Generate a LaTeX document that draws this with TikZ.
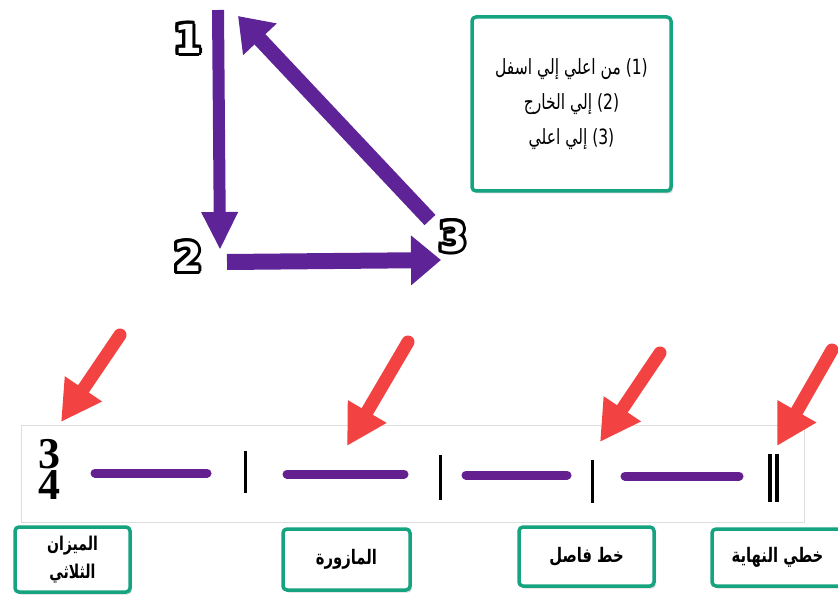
\documentclass[tikz,border=0pt]{standalone}
\usepackage{fontspec}
\usepackage[copies]{contour}
\usetikzlibrary{arrows.meta}
\usetikzlibrary{shadows}
\TeXXeTstate=1
\newfontfamily\arabicfont[Script=Arabic, FakeStretch=0.74]{DejaVu Sans}
\newfontfamily\numfont{DejaVu Sans}
\newfontfamily\metrefont{Liberation Serif}
\definecolor{violetarrow}{RGB}{94,35,150}
\definecolor{notepurple}{RGB}{100,32,142}
\definecolor{boxteal}{RGB}{22,163,128}
\definecolor{pointred}{RGB}{242,66,66}
\definecolor{staffgray}{RGB}{222,222,222}
\contourlength{3pt}

\tikzset{
  labelbox/.style={rectangle, draw=boxteal, line width=3.5pt, rounded corners=4pt, fill=white, align=center, inner sep=2pt,
    drop shadow={shadow xshift=2pt, shadow yshift=-2.5pt, opacity=0.3}, font=\arabicfont\bfseries\fontsize{20}{30}\selectfont},
  stepnum/.style={inner sep=0pt, font=\numfont\bfseries\fontsize{40}{40}\selectfont},
  metre/.style={inner sep=0pt, font=\metrefont\bfseries\fontsize{44}{44}\selectfont},
  beatline/.style={notepurple, line width=9pt, line cap=round,
    preaction={draw=black, opacity=0.18, transform canvas={shift={(1pt,-3pt)}}}},
  barline/.style={black, line width=3pt},
  movearrow/.style={violetarrow},
  pointer/.style={pointred, line width=13pt, line cap=round, -{Triangle[width=42pt, length=40pt]}},
}

\begin{document}
\begin{tikzpicture}[x=1pt, y=-1pt]

    \useasboundingbox (0,0) rectangle (838,596);

    % Triangle of beats
    \node[stepnum] (n1) at (188,40) {\contour{black}{\textcolor{white}{1}}};
    \node[stepnum] (n2) at (188,258) {\contour{black}{\textcolor{white}{2}}};
    \node[stepnum] (n3) at (453,238) {\contour{black}{\textcolor{white}{3}}};

    \coordinate (top) at (218,10);
    \coordinate (down) at (220,250);
    \coordinate (left) at (227,262);
    \coordinate (right) at (441,260);
    \coordinate (back) at (430,220);
    \coordinate (up) at (238,16);

    \draw[movearrow, line width=12pt, -{Triangle[width=34pt, length=38pt]}] (top) -- (down);
    \draw[movearrow, line width=16pt, -{Triangle[width=48pt, length=30pt]}] (left) -- (right);
    \draw[movearrow, line width=15pt, -{Triangle[width=44pt, length=32pt]}] (back) -- (up);

    % Explanation
    \node[labelbox, minimum width=199pt, minimum height=174pt, font=\arabicfont\fontsize{21}{35}\selectfont] (steps) at (571.5,104)
      {\beginR\beginL(1)\endL{} من اعلي إلي اسفل\endR\\
       \beginR\beginL(2)\endL{} إلي الخارج\endR\\
       \beginR\beginL(3)\endL{} إلي اعلي\endR};

    % Staff
    \draw[staffgray, line width=1pt] (21,425) rectangle (804,522);
    \node[metre] (upper) at (49,454) {3};
    \node[metre] (lower) at (49,485) {4};

    \draw[beatline] (95,473) -- (207,473);
    \draw[beatline] (287,474) -- (404,474);
    \draw[beatline] (466,475) -- (567,475);
    \draw[beatline] (625,476) -- (739,476);

    \draw[barline] (245,451) -- (245,493);
    \draw[barline] (440,455) -- (440,500);
    \draw[barline] (592,460) -- (592,503);
    \draw[barline, line width=3.5pt] (770,454) -- (770,502);
    \draw[barline, line width=3.5pt] (777,454) -- (777,502);

    % Pointers
    \coordinate (tailA) at (120,335);
    \coordinate (meter) at (61,422);
    \coordinate (tailB) at (408,342);
    \coordinate (measure) at (347,446);
    \coordinate (tailC) at (660,353);
    \coordinate (single) at (600,442);
    \coordinate (tailD) at (832,350);
    \coordinate (double) at (777,446);

    \draw[pointer] (tailA) -- (meter);
    \draw[pointer] (tailB) -- (measure);
    \draw[pointer] (tailC) -- (single);
    \draw[pointer] (tailD) -- (double);

    % Names
    \node[labelbox, minimum width=115pt, minimum height=65pt, font=\arabicfont\bfseries\fontsize{19}{30}\selectfont] (meterbox) at (72.5,559.5)
      {\beginR الميزان\endR\\[-2pt]\beginR الثلاثي\endR};
    \node[labelbox, minimum width=127pt, minimum height=61pt] (measurebox) at (346.5,559.5) {\beginR المازورة\endR};
    \node[labelbox, minimum width=135pt, minimum height=59pt] (singlebox) at (586.5,556.5) {\beginR خط فاصل\endR};
    \node[labelbox, minimum width=131pt, minimum height=57pt] (doublebox) at (777.5,557.5) {\beginR خطي النهاية\endR};

\end{tikzpicture}
\end{document}
